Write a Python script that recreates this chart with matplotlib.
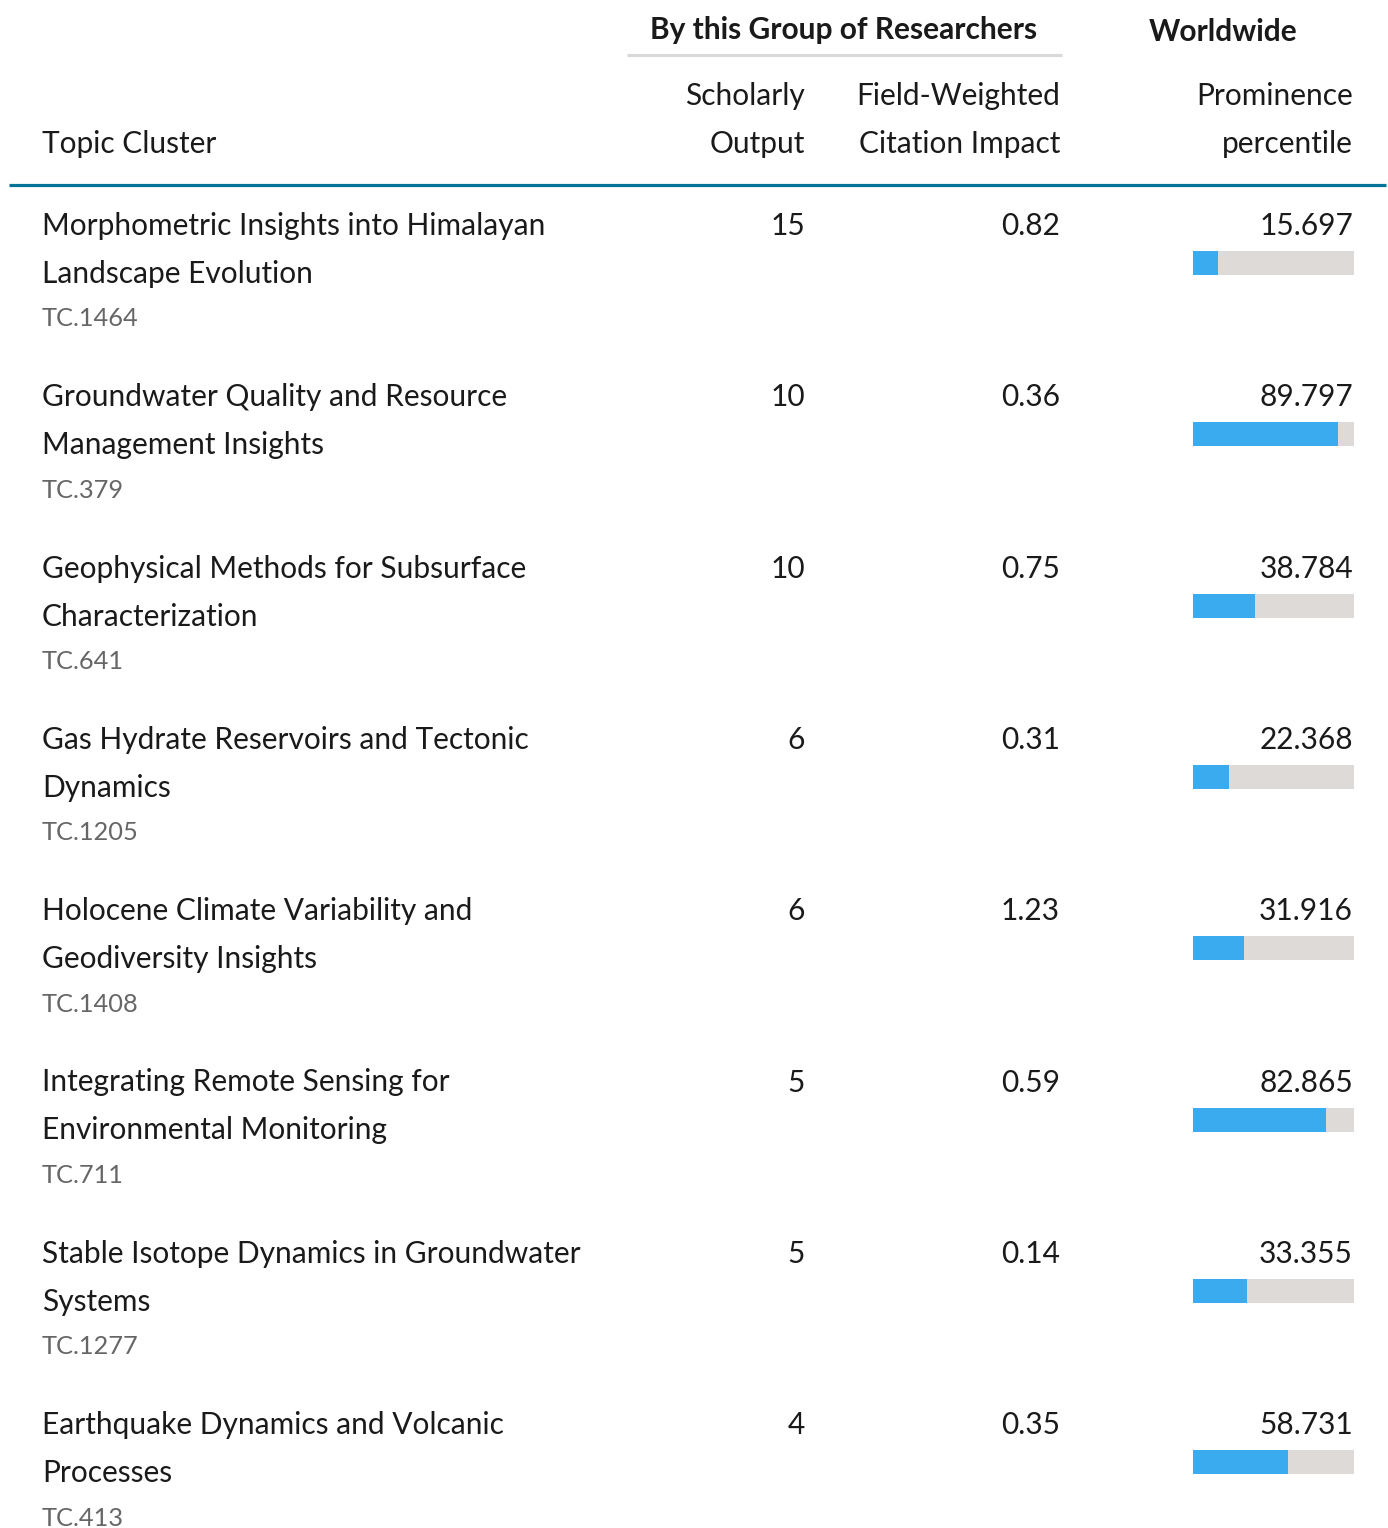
import matplotlib.pyplot as plt

plt.rcParams['font.family'] = ['Lato', 'DejaVu Sans']

# table data
topics = ["Morphometric Insights into Himalayan\nLandscape Evolution",
          "Groundwater Quality and Resource\nManagement Insights",
          "Geophysical Methods for Subsurface\nCharacterization",
          "Gas Hydrate Reservoirs and Tectonic\nDynamics",
          "Holocene Climate Variability and\nGeodiversity Insights",
          "Integrating Remote Sensing for\nEnvironmental Monitoring",
          "Stable Isotope Dynamics in Groundwater\nSystems",
          "Earthquake Dynamics and Volcanic\nProcesses"]
codes = ["TC.1464", "TC.379", "TC.641", "TC.1205", "TC.1408", "TC.711", "TC.1277", "TC.413"]
output = [15, 10, 10, 6, 6, 5, 5, 4]
fwci = [0.82, 0.36, 0.75, 0.31, 1.23, 0.59, 0.14, 0.35]
prominence = [15.697, 89.797, 38.784, 22.368, 31.916, 82.865, 33.355, 58.731]

W, H = 1388, 1528
fig = plt.figure(figsize=(W / 100, H / 100), dpi=100)
ax = fig.add_axes([0, 0, 1, 1])
ax.set_xlim(0, W)
ax.set_ylim(H, 0)
ax.axis('off')

dark = '#1a1a1a'
fs = 21.5

# header
ax.text(844, 30, "By this Group of Researchers", ha='center', va='center',
        fontsize=21.5, fontweight='bold', color=dark)
ax.text(1223, 32, "Worldwide", ha='center', va='center',
        fontsize=21.5, fontweight='bold', color=dark)
ax.plot([627, 1062], [55, 55], color='#d9d9d9', lw=2.2, solid_capstyle='butt')
ax.text(42, 144, "Topic Cluster", ha='left', va='center', fontsize=fs, color=dark)
ax.text(805, 96, "Scholarly", ha='right', va='center', fontsize=fs, color=dark)
ax.text(805, 144, "Output", ha='right', va='center', fontsize=fs, color=dark)
ax.text(1060, 96, "Field-Weighted", ha='right', va='center', fontsize=fs, color=dark)
ax.text(1060, 144, "Citation Impact", ha='right', va='center', fontsize=fs, color=dark)
ax.text(1353, 96, "Prominence", ha='right', va='center', fontsize=fs, color=dark)
ax.text(1353, 144, "percentile", ha='right', va='center', fontsize=fs, color=dark)
ax.plot([9, 1386], [185, 185], color='#007398', lw=2.3, solid_capstyle='butt')

# rows
y0, step = 224, 171.3
bar_x, bar_w, bar_h = 1193, 161, 24
for i in range(len(topics)):
    y = y0 + i * step
    line1, line2 = topics[i].split('\n')
    ax.text(42, y + 2, line1, ha='left', va='center', fontsize=fs, color=dark)
    ax.text(42, y + 50, line2, ha='left', va='center', fontsize=fs, color=dark)
    ax.text(42, y + 95, codes[i], ha='left', va='center', fontsize=18.3, color='#666666')
    ax.text(805, y + 2, str(output[i]), ha='right', va='center', fontsize=fs, color=dark)
    ax.text(1060, y + 2, f"{fwci[i]:.2f}", ha='right', va='center', fontsize=fs, color=dark)
    ax.text(1353, y + 2, f"{prominence[i]:.3f}", ha='right', va='center', fontsize=fs, color=dark)

ys = [y0 + i * step + 39 for i in range(len(topics))]
ax.barh(ys, [bar_w] * len(ys), left=bar_x, height=bar_h, color='#dddad8')
ax.barh(ys, [p / 100 * bar_w for p in prominence], left=bar_x, height=bar_h, color='#3aabef')

fig.savefig('out.png', dpi=100)
